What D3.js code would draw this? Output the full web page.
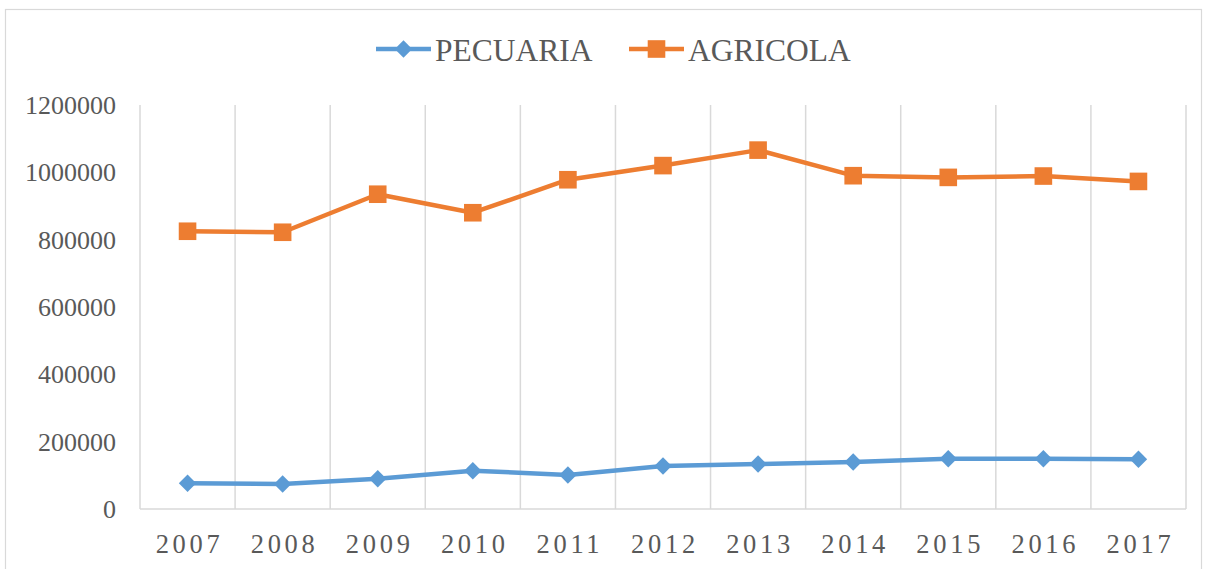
<!DOCTYPE html>
<html>
<head>
<meta charset="utf-8">
<script src="https://cdn.jsdelivr.net/npm/d3@7"></script>
<style>
  html, body { margin: 0; padding: 0; background: #fff; }
  svg { display: block; }
  text { font-family: "Liberation Serif", "Times New Roman", serif; fill: #595959; }
</style>
</head>
<body>
<script>
const years = ["2007","2008","2009","2010","2011","2012","2013","2014","2015","2016","2017"];
const pecuaria = [76300, 74300, 90000, 113800, 101000, 127700, 133700, 139600, 149400, 149400, 147600];
const agricola = [825000, 822000, 935000, 880000, 978000, 1020000, 1066000, 990000, 985000, 989000, 973000];
const yTicks = [0, 200000, 400000, 600000, 800000, 1000000, 1200000];
const seriesNames = ["PECUARIA", "AGRICOLA"];
const seriesColors = ["#5b9bd5", "#ed7d31"];

const W = 1206, H = 569;
const svg = d3.select("body").append("svg").attr("width", W).attr("height", H);

// chart border
svg.append("rect").attr("x", 5.5).attr("y", 9.5).attr("width", 1196).attr("height", 580)
  .attr("fill", "none").attr("stroke", "#d9d9d9").attr("stroke-width", 1.2);

const x = d3.scaleBand().domain(years).range([140, 1186]).padding(0);
const y = d3.scaleLinear().domain([0, 1200000]).range([509, 105]);

// vertical gridlines at category boundaries
const bounds = years.map(d => x(d)).concat([x.range()[1]]);
svg.append("g").selectAll("line").data(bounds).join("line")
  .attr("x1", d => d).attr("x2", d => d)
  .attr("y1", y(1200000)).attr("y2", y(0))
  .attr("stroke", "#d9d9d9").attr("stroke-width", 1.5);

// baseline axis
svg.append("line").attr("x1", 140).attr("x2", 1186).attr("y1", y(0)).attr("y2", y(0))
  .attr("stroke", "#d9d9d9").attr("stroke-width", 1.5);

// y labels
svg.append("g").selectAll("text").data(yTicks).join("text")
  .attr("x", 116).attr("y", d => y(d)).attr("dy", "0.35em")
  .attr("text-anchor", "end")
  .style("font-size", "26px")
  .text(d => d);

// x labels
svg.append("g").selectAll("text").data(years).join("text")
  .attr("x", d => x(d) + x.bandwidth() / 2 + 2).attr("y", 553)
  .attr("text-anchor", "middle")
  .style("font-size", "26.5px").style("letter-spacing", "3.7px")
  .text(d => d);

const cx = d => x(d) + x.bandwidth() / 2;
const line = d3.line().x((d, i) => cx(years[i])).y(d => y(d));

const allSeries = [pecuaria, agricola];
allSeries.forEach((vals, si) => {
  svg.append("path").datum(vals).attr("d", line)
    .attr("fill", "none").attr("stroke", seriesColors[si]).attr("stroke-width", 4.5)
    .attr("stroke-linejoin", "round");
});

// markers
const diamond = (s) => `M0,${-s}L${s},0L0,${s}L${-s},0Z`;
svg.append("g").selectAll("path").data(pecuaria).join("path")
  .attr("transform", (d, i) => `translate(${cx(years[i])},${y(d)})`)
  .attr("d", diamond(8.7)).attr("fill", seriesColors[0]);
svg.append("g").selectAll("rect").data(agricola).join("rect")
  .attr("x", (d, i) => cx(years[i]) - 8.8).attr("y", d => y(d) - 8.8)
  .attr("width", 17.6).attr("height", 17.6).attr("fill", seriesColors[1]);

// legend
const legendItems = [
  { name: seriesNames[0], x0: 376, color: seriesColors[0], marker: "diamond" },
  { name: seriesNames[1], x0: 629, color: seriesColors[1], marker: "square" }
];
const ly = 49;
legendItems.forEach(it => {
  const g = svg.append("g");
  g.append("line").attr("x1", it.x0).attr("x2", it.x0 + 55).attr("y1", ly).attr("y2", ly)
    .attr("stroke", it.color).attr("stroke-width", 4.5);
  const mx = it.x0 + 27.5;
  if (it.marker === "diamond") {
    g.append("path").attr("transform", `translate(${mx},${ly})`).attr("d", diamond(8.7)).attr("fill", it.color);
  } else {
    g.append("rect").attr("x", mx - 8.8).attr("y", ly - 8.8).attr("width", 17.6).attr("height", 17.6).attr("fill", it.color);
  }
  g.append("text").attr("x", it.x0 + 59).attr("y", 61)
    .style("font-size", "31.5px").text(it.name);
});
</script>
</body>
</html>
